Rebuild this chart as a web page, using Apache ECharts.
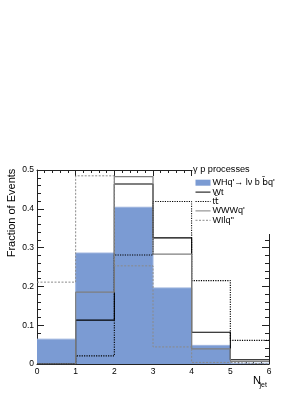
<!DOCTYPE html>
<html><head><meta charset="utf-8">
<script src="https://cdn.jsdelivr.net/npm/echarts@6/dist/echarts.min.js"></script>
<style>html,body{margin:0;padding:0;background:#fff}#c{width:306px;height:396px}</style>
</head><body><div id="c"></div>
<script>
// bin edges (N_jet) and per-bin fractions
const binEdges = [0, 1, 2, 3, 4, 5, 6];
const yTicks = [0, 0.1, 0.2, 0.3, 0.4, 0.5];
const whqVals  = [0.064, 0.286, 0.404, 0.196, 0.048, 0.002];
const wtVals   = [0.000, 0.113, 0.464, 0.325, 0.082, 0.011];
const ttVals   = [0.000, 0.021, 0.281, 0.419, 0.215, 0.061];
const wwwqVals = [0.000, 0.185, 0.483, 0.283, 0.039, 0.007];
const wilqVals = [0.211, 0.485, 0.253, 0.044, 0.004, 0.000];
const names = ["WHq'\u2192 l\u03bd b b\u0304q'", "Wt", "tt\u0304", "WWWq'", "WIlq''"];

function steps(vals) {
  const d = vals.map((v, i) => [binEdges[i], v]);
  d.push([binEdges[binEdges.length - 1], vals[vals.length - 1]]);
  return d;
}

const FONT = 'Liberation Sans';
const chart = echarts.init(document.getElementById('c'), null, {renderer: 'canvas'});

function xAx(pos, labels) {
  return {
    type: 'value', position: pos, min: 0, max: 6, interval: 1,
    axisLine: {show: true, onZero: false, lineStyle: {color: '#222', width: 1}},
    axisTick: {show: true, inside: true, length: 6, lineStyle: {color: '#222'}},
    minorTick: {show: true, splitNumber: 5, length: 3, lineStyle: {color: '#222'}},
    splitLine: {show: false}, minorSplitLine: {show: false},
    axisLabel: {show: labels, margin: 3, fontSize: 8.5, color: '#000', fontFamily: FONT}
  };
}
function yAx(pos, labels) {
  return {
    type: 'value', position: pos, min: 0, max: 0.5, interval: 0.1,
    axisLine: {show: true, onZero: false, lineStyle: {color: '#222', width: 1}},
    axisTick: {show: true, inside: true, length: 7, lineStyle: {color: '#222'}},
    minorTick: {show: true, splitNumber: 5, length: 4, lineStyle: {color: '#222'}},
    splitLine: {show: false}, minorSplitLine: {show: false},
    axisLabel: {show: labels, margin: 3, fontSize: 8.5, color: '#000', fontFamily: FONT,
      formatter: v => (v === 0 ? '0' : String(Math.round(v * 10) / 10))}
  };
}

function histLine(name, vals, color, type, width) {
  return {
    name, type: 'line', step: 'end', data: steps(vals), symbol: 'none', showSymbol: false, color,
    lineStyle: {color, type, width}, z: 3, silent: true, animation: false
  };
}

const hideSym = {opacity: 0, color: 'rgba(0,0,0,0)', borderWidth: 0};

const option = {
  animation: false,
  grid: {left: 37, top: 170, width: 232, height: 194, containLabel: false},
  xAxis: [xAx('bottom', true), xAx('top', false)],
  yAxis: [yAx('left', true), yAx('right', false)],
  title: {
    text: '\u03b3 p processes', left: 193, top: 165, padding: 0, z: 60,
    textStyle: {fontSize: 9.2, fontWeight: 'normal', color: '#000', fontFamily: FONT}
  },
  legend: {
    orient: 'vertical', left: 195, top: 178, padding: 0, itemGap: 0,
    itemWidth: 15, itemHeight: 6, z: 60, selectedMode: false,
    lineStyle: {width: 1},
    textStyle: {fontSize: 9, color: '#000', fontFamily: FONT, lineHeight: 9.4, padding: [0, 0, 0, -3],
      rich: {m: {fontSize: 9, fontFamily: 'DejaVu Sans', lineHeight: 9.4, color: '#000'}}},
    formatter: function (n) {
      if (n === names[0]) return "WHq'\u2192 l\u03bd b {m|b\u0304}q'";
      if (n === names[2]) return 't{m|t\u0304}';
      return n;
    },
    data: [
      {name: names[0], icon: 'rect'},
      {name: names[1], itemStyle: hideSym},
      {name: names[2], itemStyle: hideSym},
      {name: names[3], itemStyle: hideSym},
      {name: names[4], itemStyle: hideSym}
    ]
  },
  graphic: [
    {type: 'rect', shape: {x: 192.5, y: 0, width: 120, height: 234}, style: {fill: '#fff'}, z: 50, silent: true},
    {type: 'text', x: 12, y: 213, rotation: Math.PI / 2, z: 60,
      style: {text: 'Fraction of Events', fontSize: 11, fontFamily: FONT, fill: '#000', align: 'center', verticalAlign: 'middle'}},
    {type: 'text', x: 253, y: 375, z: 60,
      style: {text: 'N', fontSize: 11, fontFamily: FONT, fill: '#000', align: 'left', verticalAlign: 'top'}},
    {type: 'text', x: 259.5, y: 381.5, z: 60,
      style: {text: 'jet', fontSize: 7, fontFamily: FONT, fill: '#000', align: 'left', verticalAlign: 'top'}}
  ],
  series: [
    {
      name: names[0], type: 'line', step: 'end', data: steps(whqVals), symbol: 'none',
      color: '#7b9bd3', lineStyle: {color: '#9cb3de', width: 1},
      areaStyle: {color: '#7b9bd3', opacity: 1}, z: 2, silent: true
    },
    histLine(names[1], wtVals, '#000', 'solid', 1.1),
    histLine(names[2], ttVals, '#000', [1.2, 1.2], 1.1),
    histLine(names[3], wwwqVals, '#7f7f7f', 'solid', 1.2),
    histLine(names[4], wilqVals, '#8a8a8a', [2, 1.5], 1)
  ]
};
chart.setOption(option);
</script></body></html>
